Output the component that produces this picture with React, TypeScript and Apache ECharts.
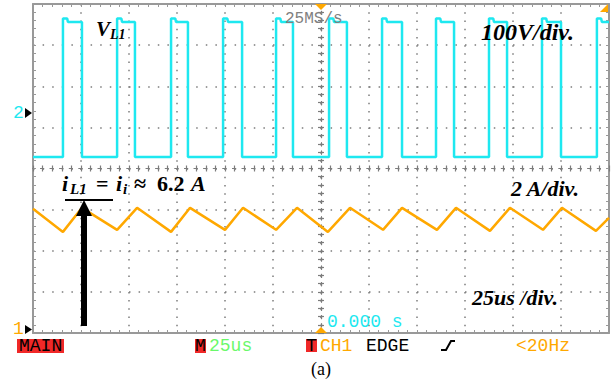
import React, { useEffect, useRef } from "react";
import * as echarts from "echarts";

// ---- Data ----
// Time axis: 25 us/div, 12 divisions, trigger (0 s) at centre.
const timeTicks = [-150, -125, -100, -75, -50, -25, 0, 25, 50, 75, 100, 125, 150];

// CH2: V_L1 (100 V/div) — switching edges (us) and levels (V)
const vRiseTimes = [-134.4, -106.2, -78.1, -51.0, -23.4, 4.2, 31.8, 59.9, 87.5, 115.1, 143.7];
const vFallTimes = [-124.5, -96.9, -69.3, -41.1, -14.6, 13.5, 42.2, 69.3, 96.9, 125.0];
const vHighLevel = 221;
const vOvershootLevel = 230;
const vOvershootUs = 2.2;
const vLowLevel = -107;

// CH1: i_L1 (2 A/div) — triangle vertices
const iTimes = [-150, -134.4, -124.5, -106.2, -95.8, -78.1, -68.2, -50.0, -40.6, -23.4, -12.5, 3.6, 15.1, 32.3, 42.2, 60.4, 70.3, 88.0, 98.4, 115.6, 125.5, 143.2, 150];
const iAmps = [5.89, 4.77, 5.94, 4.87, 5.94, 4.77, 5.94, 4.87, 5.94, 4.87, 5.94, 4.77, 5.94, 4.87, 5.94, 4.87, 5.94, 4.82, 5.94, 4.87, 5.94, 4.82, 5.45];

// Channel axis ranges (ground markers: CH2 2.65 div from top, CH1 near bottom)
const ch2Range = [-535, 265];
const ch1Range = [-0.146, 15.85];

const CYAN = "#1ee8f0";
const ORANGE = "#ffa800";
const GRAY = "#999999";
const DOT = "#7c7c7c";
const RED = "#f02828";

function buildVoltage(): number[][] {
  const pts: number[][] = [[timeTicks[0], vLowLevel]];
  vRiseTimes.forEach((tr, i) => {
    pts.push(
      [tr, vLowLevel],
      [tr, vOvershootLevel],
      [tr + vOvershootUs, vOvershootLevel],
      [tr + vOvershootUs + 0.4, vHighLevel]
    );
    const tf = vFallTimes[i];
    if (tf !== undefined) pts.push([tf, vHighLevel], [tf, vLowLevel]);
    else pts.push([timeTicks[timeTicks.length - 1], vHighLevel]);
  });
  return pts;
}

function borderAxis(kind: "x" | "y", position: string, split: boolean) {
  const isX = kind === "x";
  return {
    type: "value",
    min: isX ? -150 : -4,
    max: isX ? 150 : 4,
    interval: isX ? 25 : 1,
    position,
    axisLine: { show: true, onZero: false, lineStyle: { color: GRAY, width: 2 } },
    axisTick: { show: true, inside: true, length: 3, lineStyle: { color: GRAY, width: 1 } },
    minorTick: { show: true, splitNumber: 5, length: 3, lineStyle: { color: GRAY, width: 1 } },
    axisLabel: { show: false },
    splitLine: {
      show: split,
      lineStyle: { color: DOT, width: 1.5, type: isX ? [1.5, 6.725] : [1.5, 8.1] },
    },
    minorSplitLine: { show: false },
  };
}

function centerAxis(kind: "x" | "y", inside: boolean) {
  const isX = kind === "x";
  return {
    type: "value",
    min: isX ? -150 : -4,
    max: isX ? 150 : 4,
    interval: isX ? 25 : 1,
    position: isX ? "bottom" : "left",
    axisLine: {
      show: true,
      onZero: true,
      onZeroAxisIndex: 0,
      lineStyle: { color: DOT, width: 1.2, type: isX ? [3, 6.6] : [3, 5.225], dashOffset: 1.5 },
    },
    axisTick: { show: true, inside, length: 3, lineStyle: { color: DOT, width: 1.2 } },
    minorTick: { show: true, splitNumber: 5, length: 3, lineStyle: { color: DOT, width: 1.2 } },
    axisLabel: { show: false },
    splitLine: { show: false },
  };
}

function txt(text: string, x: number, y: number, o: any = {}) {
  return {
    type: "text",
    x,
    y,
    z: 100,
    style: {
      text,
      fill: o.fill || "#000",
      fontSize: o.size || 18,
      fontFamily: o.family || "Liberation Serif",
      fontWeight: o.weight || "normal",
      fontStyle: o.style || "normal",
      align: o.align || "left",
      verticalAlign: "middle",
      opacity: o.opacity ?? 1,
    },
  };
}

const MONO = "Liberation Mono";

export default function App() {
  const ref = useRef<HTMLDivElement>(null);
  useEffect(() => {
    document.body.style.margin = "0";
    const chart = echarts.init(ref.current!, null, { renderer: "svg" });
    const bi = { weight: "bold", style: "italic" };
    chart.setOption({
      animation: false,
      backgroundColor: "#ffffff",
      grid: { left: 33, top: 4, right: 7, bottom: 47, containLabel: false },
      xAxis: [
        borderAxis("x", "bottom", true),
        borderAxis("x", "top", false),
        centerAxis("x", true),
        centerAxis("x", false),
      ],
      yAxis: [
        borderAxis("y", "left", true),
        borderAxis("y", "right", false),
        centerAxis("y", true),
        centerAxis("y", false),
        { type: "value", show: false, min: ch2Range[0], max: ch2Range[1] },
        { type: "value", show: false, min: ch1Range[0], max: ch1Range[1] },
      ],
      series: [
        {
          name: "V_L1",
          type: "line",
          xAxisIndex: 0,
          yAxisIndex: 4,
          data: buildVoltage(),
          symbol: "none",
          lineStyle: { color: CYAN, width: 2.5 },
          z: 5,
        },
        {
          name: "i_L1",
          type: "line",
          xAxisIndex: 0,
          yAxisIndex: 5,
          data: iTimes.map((t, k) => [t, iAmps[k]]),
          symbol: "none",
          lineStyle: { color: ORANGE, width: 2.5 },
          z: 5,
        },
      ],
      graphic: [
        // trigger markers
        { type: "polygon", z: 90, shape: { points: [[315, 4], [327, 4], [321, 10]] }, style: { fill: ORANGE } },
        { type: "polygon", z: 90, shape: { points: [[315, 333], [327, 333], [321, 327]] }, style: { fill: ORANGE } },
        { type: "polygon", z: 90, shape: { points: [[600, 12], [608, 4], [608, 12]] }, style: { fill: ORANGE } },
        // channel markers
        txt("2", 13, 113, { fill: CYAN, size: 18, family: MONO }),
        { type: "polygon", z: 90, shape: { points: [[25, 108], [25, 118], [32, 113]] }, style: { fill: "#000" } },
        txt("1", 13, 329, { fill: ORANGE, size: 18, family: MONO }),
        { type: "polygon", z: 90, shape: { points: [[25, 325], [25, 334], [32, 329.5]] }, style: { fill: "#000" } },
        // sample rate
        txt("25MS/s", 285, 19, { fill: "#808080", size: 16, family: MONO }),
        // annotations
        txt("V", 96, 29, { ...bi, size: 21 }),
        txt("L1", 110, 34, { ...bi, size: 14 }),
        txt("100V/div.", 481, 32, { ...bi, size: 24 }),
        txt("i", 62, 183, { ...bi, size: 22 }),
        txt("L1", 70, 189, { ...bi, size: 15 }),
        txt("=", 96, 183, { weight: "bold", size: 22 }),
        txt("i", 116, 183, { ...bi, size: 22 }),
        txt("i", 123, 189, { ...bi, size: 15 }),
        txt("≈", 134, 183, { weight: "bold", size: 22 }),
        txt("6.2", 157, 183, { weight: "bold", size: 22 }),
        txt("A", 191, 183, { ...bi, size: 22 }),
        { type: "line", z: 95, shape: { x1: 65, y1: 200, x2: 113, y2: 200 }, style: { stroke: "#000", lineWidth: 2 } },
        { type: "polygon", z: 95, shape: { points: [[84, 200], [76, 216], [92, 216]] }, style: { fill: "#000" } },
        { type: "rect", z: 95, shape: { x: 81, y: 214, width: 6, height: 112 }, style: { fill: "#000" } },
        txt("2 A/div.", 511, 188, { ...bi, size: 22 }),
        txt("25us /div.", 472, 297, { ...bi, size: 22 }),
        txt("0.000 s", 327, 322, { fill: CYAN, size: 18, family: MONO }),
        // status bar
        { type: "rect", z: 90, shape: { x: 17, y: 339, width: 47, height: 14 }, style: { fill: RED } },
        txt("MAIN", 19, 346, { size: 18, family: MONO }),
        { type: "rect", z: 90, shape: { x: 195, y: 339, width: 11, height: 14 }, style: { fill: RED } },
        txt("M", 195, 346, { size: 18, family: MONO }),
        txt("25us", 209, 346, { fill: "#6af86a", size: 18, family: MONO }),
        { type: "rect", z: 90, shape: { x: 306, y: 339, width: 11, height: 13 }, style: { fill: RED } },
        txt("T", 306, 346, { size: 18, family: MONO }),
        txt("CH1", 320, 346, { fill: ORANGE, size: 18, family: MONO }),
        txt("EDGE", 366, 346, { size: 18, family: MONO }),
        {
          type: "polyline",
          z: 95,
          shape: { points: [[441, 350], [446, 350], [451, 341], [455, 341]] },
          style: { stroke: "#000", lineWidth: 2, fill: null },
        },
        txt("<20Hz", 516, 346, { fill: ORANGE, size: 18, family: MONO }),
        txt("(a)", 311, 369, { size: 18 }),
      ],
    });
    return () => chart.dispose();
  }, []);
  return <div ref={ref} style={{ width: 616, height: 380 }} />;
}
